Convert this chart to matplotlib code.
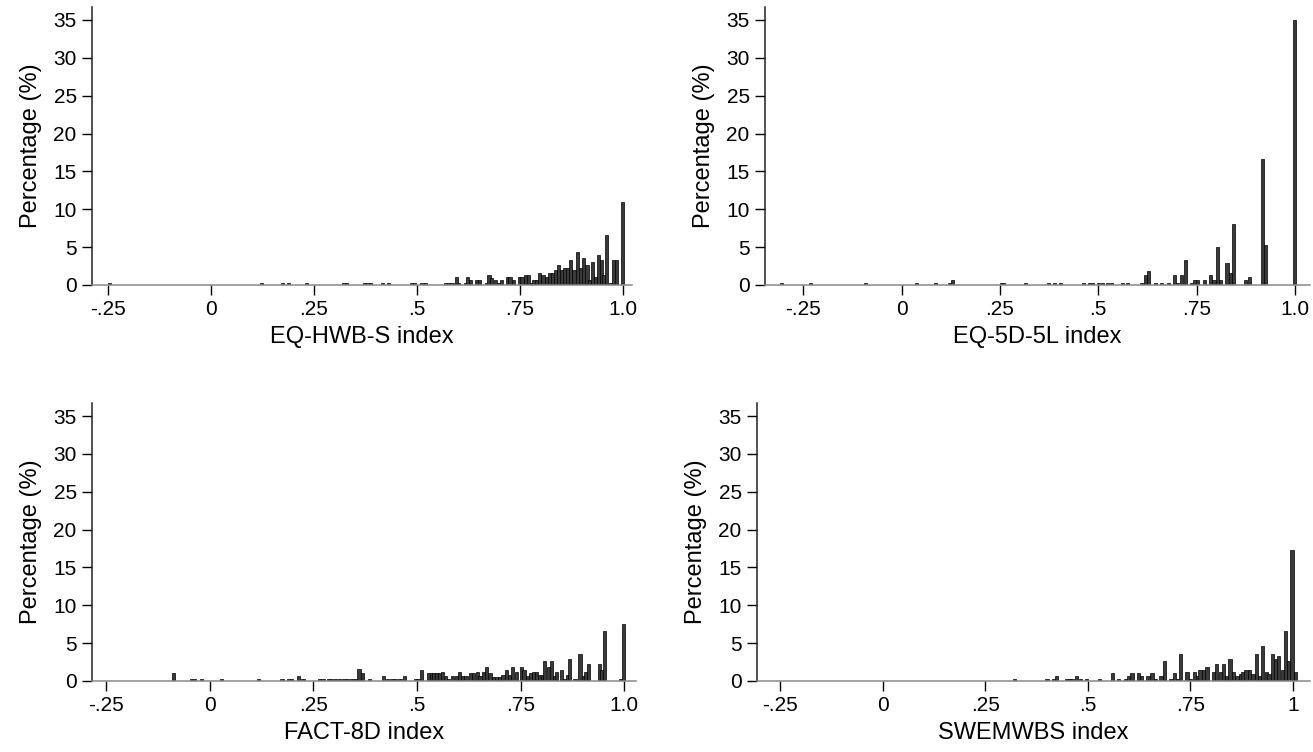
import matplotlib
matplotlib.use("Agg")
import matplotlib.pyplot as plt
import numpy as np

plt.rcParams['font.family'] = ['Liberation Sans', 'DejaVu Sans']

############## values (bin centre, percentage) ##############
eqhwb_x = [-0.247, 0.123, 0.174, 0.189, 0.232, 0.321, 0.329, 0.372, 0.380, 0.388,
           0.417, 0.430, 0.486, 0.494, 0.512, 0.520, 0.569, 0.577, 0.585, 0.595,
           0.601, 0.617, 0.623, 0.629, 0.644, 0.652, 0.669, 0.675, 0.681, 0.690,
           0.698, 0.705, 0.719, 0.726, 0.734, 0.748, 0.755, 0.764, 0.771, 0.778,
           0.784, 0.791, 0.798, 0.806, 0.814, 0.823, 0.830, 0.837, 0.844, 0.851,
           0.858, 0.866, 0.873, 0.881, 0.889, 0.897, 0.905, 0.913, 0.919, 0.926,
           0.933, 0.940, 0.948, 0.954, 0.961, 0.969, 0.977, 0.984, 0.998]
eqhwb_pct = [0.25, 0.25, 0.25, 0.25, 0.25, 0.25, 0.25, 0.25, 0.25, 0.25,
             0.25, 0.25, 0.25, 0.25, 0.25, 0.25, 0.25, 0.25, 0.25, 1.0,
             0.25, 0.3, 1.0, 0.6, 0.6, 0.6, 0.3, 1.3, 0.9, 0.6,
             0.3, 0.6, 1.0, 1.0, 0.6, 1.0, 1.0, 1.3, 1.3, 0.3,
             0.6, 0.6, 1.6, 1.3, 1.0, 1.6, 1.6, 2.0, 2.6, 2.0,
             2.3, 2.3, 3.3, 2.0, 4.3, 2.3, 3.6, 2.6, 0.6, 3.0,
             1.0, 4.0, 3.3, 1.3, 6.6, 0.3, 3.3, 3.3, 11.0]

eq5d_x = [-0.305, -0.231, -0.092, 0.038, 0.087, 0.121, 0.129, 0.253, 0.260, 0.316,
          0.374, 0.388, 0.405, 0.462, 0.478, 0.486, 0.501, 0.511, 0.523, 0.534,
          0.562, 0.575, 0.611, 0.619, 0.628, 0.645, 0.660, 0.679, 0.694, 0.702,
          0.712, 0.721, 0.738, 0.745, 0.753, 0.770, 0.785, 0.794, 0.802, 0.811,
          0.827, 0.835, 0.844, 0.874, 0.885, 0.917, 0.925, 0.999]
eq5d_pct = [0.25, 0.25, 0.25, 0.25, 0.25, 0.25, 0.6, 0.3, 0.3, 0.25,
            0.25, 0.25, 0.25, 0.3, 0.3, 0.3, 0.3, 0.3, 0.3, 0.3,
            0.3, 0.3, 0.3, 1.3, 1.9, 0.25, 0.25, 0.25, 1.3, 0.3,
            1.3, 3.3, 0.3, 0.6, 0.6, 0.6, 1.3, 0.6, 5.0, 0.6,
            2.9, 1.6, 8.0, 0.6, 1.0, 16.7, 5.3, 35.0]

fact8d_x = [-0.088, -0.044, -0.037, -0.019, 0.028, 0.118, 0.174, 0.190, 0.197, 0.214,
            0.225, 0.265, 0.273, 0.286, 0.294, 0.303, 0.313, 0.324, 0.332, 0.343,
            0.352, 0.360, 0.368, 0.386, 0.419, 0.428, 0.438, 0.447, 0.459, 0.469,
            0.496, 0.502, 0.510, 0.527, 0.534, 0.541, 0.548, 0.555, 0.562, 0.568,
            0.575, 0.586, 0.595, 0.603, 0.610, 0.618, 0.628, 0.637, 0.645, 0.652,
            0.660, 0.668, 0.676, 0.684, 0.692, 0.700, 0.707, 0.715, 0.723, 0.731,
            0.739, 0.752, 0.758, 0.766, 0.773, 0.780, 0.788, 0.795, 0.802, 0.808,
            0.818, 0.824, 0.831, 0.837, 0.849, 0.857, 0.863, 0.868, 0.881, 0.893,
            0.901, 0.907, 0.913, 0.940, 0.946, 0.952, 0.990, 0.998]
fact8d_pct = [1.0, 0.25, 0.25, 0.25, 0.25, 0.25, 0.25, 0.25, 0.25, 0.6,
              0.25, 0.3, 0.3, 0.3, 0.3, 0.3, 0.3, 0.3, 0.3, 0.3,
              0.3, 1.6, 1.0, 0.25, 0.6, 0.3, 0.3, 0.3, 0.3, 0.6,
              0.3, 0.3, 1.5, 1.0, 1.0, 1.0, 1.0, 1.0, 1.2, 0.6,
              0.3, 0.6, 0.6, 1.2, 0.6, 0.6, 1.0, 1.0, 1.2, 0.6,
              1.2, 1.9, 1.0, 0.5, 0.5, 0.5, 0.8, 1.5, 0.8, 1.8,
              1.2, 1.9, 1.5, 0.6, 1.0, 1.2, 1.2, 0.8, 0.8, 2.6,
              1.9, 2.6, 0.6, 1.2, 1.5, 0.2, 0.8, 2.9, 0.2, 3.6,
              0.6, 1.2, 2.2, 2.2, 1.5, 6.6, 0.2, 7.5]

swemwbs_x = [0.321, 0.401, 0.416, 0.425, 0.448, 0.456, 0.462, 0.472, 0.482, 0.497,
             0.529, 0.560, 0.575, 0.592, 0.600, 0.608, 0.624, 0.632, 0.647, 0.657,
             0.665, 0.679, 0.688, 0.703, 0.711, 0.719, 0.727, 0.742, 0.750, 0.760,
             0.768, 0.774, 0.782, 0.791, 0.807, 0.815, 0.823, 0.831, 0.839, 0.847,
             0.856, 0.864, 0.872, 0.878, 0.886, 0.894, 0.903, 0.911, 0.919, 0.927,
             0.935, 0.942, 0.951, 0.959, 0.966, 0.974, 0.982, 0.990, 0.998, 1.006]
swemwbs_pct = [0.25, 0.25, 0.25, 0.6, 0.25, 0.25, 0.25, 0.6, 0.25, 0.25,
               0.25, 1.0, 0.25, 0.25, 0.6, 1.0, 1.0, 0.6, 0.6, 1.0,
               0.3, 0.6, 2.6, 0.25, 1.0, 0.3, 3.6, 1.2, 0.3, 1.2,
               0.6, 1.5, 1.5, 1.8, 1.2, 2.2, 1.2, 2.2, 0.6, 2.9,
               1.2, 0.6, 0.9, 1.2, 1.5, 1.5, 0.9, 3.6, 0.6, 4.6,
               1.2, 0.9, 3.6, 2.9, 3.3, 1.5, 6.6, 2.6, 17.3, 1.2]

panels = [
    ("EQ-HWB-S index", eqhwb_x, eqhwb_pct, (-0.289, 1.022), "1.0"),
    ("EQ-5D-5L index", eq5d_x, eq5d_pct, (-0.347, 1.038), "1.0"),
    ("FACT-8D index", fact8d_x, fact8d_pct, (-0.284, 1.028), "1.0"),
    ("SWEMWBS index", swemwbs_x, swemwbs_pct, (-0.306, 1.042), "1"),
]

# axes boxes in pixels: left, right, y of zero line, y of top
boxes = [(92, 632, 285, 7), (765, 1310, 285, 7),
         (92, 636, 681, 403), (757, 1310, 681, 403)]

W, H = 1313, 752
fig = plt.figure(figsize=(W / 100, H / 100), dpi=100)

for (label, xs, ys, xlim, last), (l, r, b, t) in zip(panels, boxes):
    ax = fig.add_axes([l / W, 1 - b / H, (r - l) / W, (b - t) / H])
    ax.bar(xs, ys, width=0.0078, color='#3a3a3a', edgecolor='black', linewidth=0.5)
    ax.set_xlim(*xlim)
    ax.set_ylim(0, (b - t) / (265 / 35))
    ax.set_yticks(np.arange(0, 36, 5))
    ax.set_xticks([-0.25, 0, 0.25, 0.5, 0.75, 1.0])
    ax.set_xticklabels(["-.25", "0", ".25", ".5", ".75", last])
    ax.tick_params(axis='both', labelsize=15, length=7, width=1, pad=4, colors='black')
    for s in ('top', 'right'):
        ax.spines[s].set_visible(False)
    ax.spines['left'].set_color('#222222')
    ax.spines['bottom'].set_color('#888888')
    ax.spines['left'].set_linewidth(1.1)
    ax.spines['bottom'].set_linewidth(1.1)
    ax.set_ylabel("Percentage (%)", fontsize=17, labelpad=8)
    ax.set_xlabel(label, fontsize=17, labelpad=5)

fig.savefig("out.png", dpi=100)
